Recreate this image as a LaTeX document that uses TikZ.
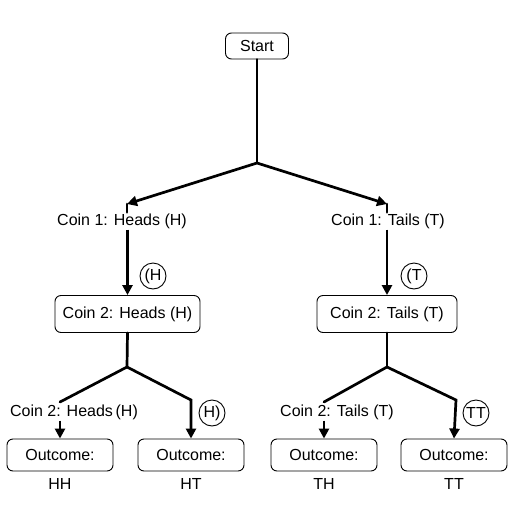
\documentclass[tikz,border=0pt]{standalone}
\usepackage{fontspec}
\setmainfont{Liberation Sans}
\usetikzlibrary{positioning,calc,arrows.meta}

\begin{document}
\begin{tikzpicture}[
    x=1pt, y=-1pt,
    font=\fontsize{16pt}{18pt}\selectfont,
    box/.style={rectangle, rounded corners=6pt, draw=black, line width=0.9pt, inner sep=0pt},
    lbl/.style={inner sep=1pt},
    tag/.style={circle, draw=black, line width=0.9pt, minimum size=26pt, inner sep=0pt},
    edge/.style={line width=2.7pt, line cap=round},
    arr/.style={line width=2.7pt, -{Triangle[length=10pt,width=10pt]}},
    ]
    \useasboundingbox (0,0) rectangle (512,512);

    % root
    \node[box, minimum width=63pt, minimum height=26pt] (start) at (257,46) {Start};
    \coordinate (j0) at (257,163);

    % first coin
    \coordinate (t_h) at (127,204);
    \coordinate (t_t) at (387,204);
    \node[lbl] (c1_h) at (122,221) {Coin 1: Heads (H)};
    \node[lbl] (c1_t) at (388,221) {Coin 1: Tails (T)};
    \node[tag] (tag_h) at (153,276) {(H};
    \node[tag] (tag_t) at (414,276) {(T};

    % second coin
    \node[box, minimum width=145pt, minimum height=37pt] (c2_h) at (127.5,314) {Coin 2: Heads (H)};
    \node[box, minimum width=140pt, minimum height=37pt] (c2_t) at (387,314) {Coin 2: Tails (T)};
    \coordinate (j1h) at (127,367);
    \coordinate (j1t) at (387,367);

    % second level branches
    \coordinate (k_hh) at (60,402);
    \coordinate (k_ht) at (191,400);
    \coordinate (k_th) at (324,402);
    \coordinate (k_tt) at (456,400);
    \node[lbl] (c2_hh) at (74,412) {Coin 2: Heads\,(H)};
    \node[lbl] (c2_tt) at (337,412) {Coin 2: Tails (T)};
    \node[tag] (tag_ht) at (212,413) {H)};
    \node[tag] (tag_tt) at (476,413) {TT};

    % outcomes
    \node[box, minimum width=106pt, minimum height=32pt] (out_hh) at (60,455) {Outcome:};
    \node[box, minimum width=106pt, minimum height=32pt] (out_ht) at (191,455) {Outcome:};
    \node[box, minimum width=106pt, minimum height=32pt] (out_th) at (324,455) {Outcome:};
    \node[box, minimum width=106pt, minimum height=32pt] (out_tt) at (454,455) {Outcome:};
    \node[lbl, below=6pt of out_hh] (res_hh) {HH};
    \node[lbl, below=6pt of out_ht] (res_ht) {HT};
    \node[lbl, below=6pt of out_th] (res_th) {TH};
    \node[lbl, below=6pt of out_tt] (res_tt) {TT};

    % root arrows
    \draw[edge] (start.south) -- (j0);
    \draw[arr]  (j0) -- (t_h);
    \draw[arr]  (j0) -- (t_t);
    \draw[edge] (t_h) -- (c1_h.north -| t_h);
    \draw[edge] (t_t) -- (c1_t.north -| t_t);

    % first coin arrows
    \draw[arr]  (c1_h.south -| c2_h.north) -- (c2_h.north);
    \draw[arr]  (c1_t.south -| c2_t.north) -- (c2_t.north);

    % heads side
    \draw[edge] (c2_h.south) -- (j1h);
    \draw[edge] (j1h) -- (k_hh);
    \draw[arr]  (c2_hh.south -| out_hh.north) -- (out_hh.north);
    \draw[arr]  (j1h) -- (k_ht) -- (out_ht.north);

    % tails side
    \draw[edge] (c2_t.south) -- (j1t);
    \draw[edge] (j1t) -- (k_th);
    \draw[arr]  (c2_tt.south -| out_th.north) -- (out_th.north);
    \draw[arr]  (j1t) -- (k_tt) -- (out_tt.north);
\end{tikzpicture}
\end{document}
